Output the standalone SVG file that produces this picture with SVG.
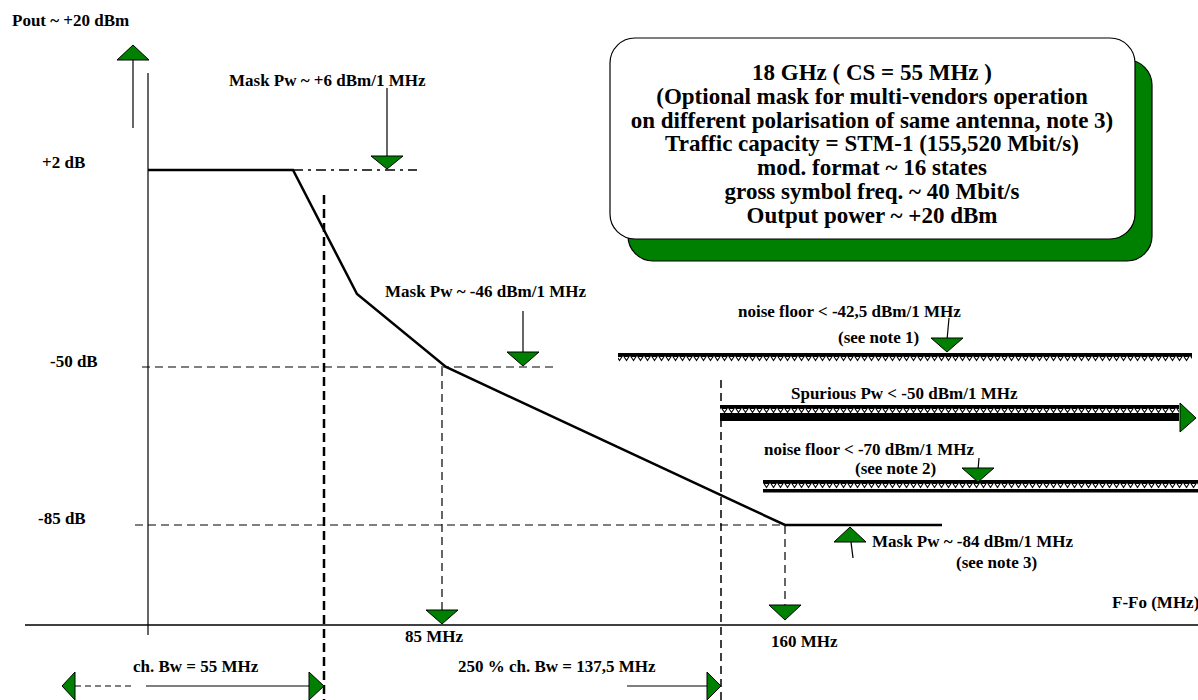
<svg xmlns="http://www.w3.org/2000/svg" width="1198" height="700" viewBox="0 0 1198 700">
<style>
text{font-family:'Liberation Serif','DejaVu Serif',serif;font-weight:bold;fill:#000}
.s{font-size:17px}
.b{font-size:23px;text-anchor:middle}
.tri{fill:#008000;stroke:#000;stroke-width:1}
.thin{stroke:#000;stroke-width:1.2;fill:none}
.dash{stroke:#000;stroke-width:1.2;stroke-dasharray:8,5;fill:none}
.bdash{stroke:#000;stroke-width:2.5;stroke-dasharray:9,5;fill:none}
</style>
<defs>
<pattern id="hatch" width="7" height="20" patternUnits="userSpaceOnUse">
<rect width="7" height="20" fill="#fff"/>
<rect width="7" height="3" fill="#000"/>
<polygon points="0,3 7,3 3.5,8.5" fill="#000"/>
<polygon points="1.8,3.9 5.2,3.9 3.5,6.6" fill="#fff"/>
</pattern>
<pattern id="h1" href="#hatch" x="0" y="353"/>
<pattern id="h2" href="#hatch" x="0" y="405"/>
<pattern id="h3" href="#hatch" x="0" y="480"/>
</defs>
<rect width="1198" height="700" fill="#fff"/>

<g id="axes">
<line x1="148" y1="73" x2="148" y2="635" stroke="#333" stroke-width="1.5"/>
<line x1="25" y1="625" x2="1198" y2="625" stroke="#000" stroke-width="1.5"/>
<text x="12" y="26" class="s">Pout ~ +20 dBm</text>
<line x1="133" y1="60" x2="133" y2="128" class="thin"/>
<polygon class="tri" points="117,60 149,60 133,45"/>
<text x="42" y="168" class="s">+2 dB</text>
<text x="50" y="367" class="s">-50 dB</text>
<text x="38" y="524" class="s">-85 dB</text>
<text x="1112" y="608" class="s">F-Fo (MHz)</text>
</g>

<g id="mask-curve">
<polyline points="148,170 293,170 357,294 446,367 785,525 942,525" fill="none" stroke="#000" stroke-width="2.5"/>
<line x1="293" y1="170" x2="417" y2="170" stroke="#000" stroke-width="1.5" stroke-dasharray="10,5,3,5"/>
</g>

<g id="connectors">
<line x1="142" y1="367" x2="553" y2="367" class="dash"/>
<line x1="135" y1="525" x2="785" y2="525" class="dash"/>
<line x1="324" y1="195" x2="324" y2="700" class="bdash"/>
<line x1="721" y1="380" x2="721" y2="700" stroke="#000" stroke-width="1.5" stroke-dasharray="8,5"/>
<line x1="442" y1="368" x2="442" y2="610" class="dash" stroke-width="1.5"/>
<line x1="785" y1="526" x2="785" y2="605" class="dash" stroke-width="1.5"/>
</g>

<g id="mask-plus6">
<text x="229" y="86" class="s">Mask Pw ~ +6 dBm/1  MHz</text>
<line x1="387" y1="88" x2="387" y2="156" class="thin"/>
<polygon class="tri" points="371,156 403,156 387,169"/>
</g>

<g id="mask-minus46">
<text x="385" y="297" class="s">Mask Pw ~ -46 dBm/1  MHz</text>
<line x1="523" y1="311" x2="523" y2="352" class="thin"/>
<polygon class="tri" points="507,352 539,352 523,366"/>
</g>

<g id="f85">
<polygon class="tri" points="426,610 458,610 442,624"/>
<text x="405" y="642" class="s">85 MHz</text>
</g>

<g id="f160">
<polygon class="tri" points="769,605 801,605 785,620"/>
<text x="771" y="647" class="s">160 MHz</text>
</g>

<g id="mask-minus84">
<polygon class="tri" points="834,542 866,542 850,527"/>
<line x1="851" y1="542" x2="853" y2="558" class="thin"/>
<text x="872" y="547" class="s">Mask Pw ~ -84 dBm/1  MHz</text>
<text x="956" y="568" class="s">(see note 3)</text>
</g>

<g id="noise1">
<text x="738" y="317" class="s">noise floor &lt; -42,5 dBm/1  MHz</text>
<text x="838" y="343" class="s">(see note 1)</text>
<line x1="949" y1="318" x2="947" y2="340" class="thin"/>
<rect x="618" y="353" width="574" height="10" fill="url(#h1)"/>
<polygon class="tri" points="931,338 963,338 947,352"/>
</g>

<g id="spurious">
<text x="791" y="399" class="s">Spurious Pw &lt; -50 dBm/1  MHz</text>
<rect x="720" y="405" width="459" height="8" fill="url(#h2)"/>
<rect x="720" y="413" width="459" height="8" fill="#000"/>
<polygon class="tri" points="1180,403 1180,432 1196,418"/>
</g>

<g id="noise2">
<text x="764" y="455" class="s">noise floor &lt; -70 dBm/1  MHz</text>
<text x="855" y="474" class="s">(see note 2)</text>
<line x1="979" y1="458" x2="978" y2="470" class="thin"/>
<rect x="763" y="480" width="435" height="9" fill="url(#h3)"/>
<rect x="763" y="489" width="435" height="3.5" fill="#000"/>
<polygon class="tri" points="962,468 994,468 978,482"/>
</g>

<g id="info-box">
<rect x="628" y="60" width="524" height="201" rx="25" fill="#008000" stroke="#000" stroke-width="1.2"/>
<rect x="610" y="38" width="525" height="201" rx="25" fill="#fff" stroke="#000" stroke-width="1.2"/>
<text x="872" y="80" class="b">18 GHz ( CS = 55 MHz )</text>
<text x="872" y="104" class="b">(Optional mask for multi-vendors operation</text>
<text x="872" y="128" class="b">on different polarisation of same antenna, note 3)</text>
<text x="872" y="151" class="b">Traffic capacity = STM-1 (155,520 Mbit/s)</text>
<text x="872" y="175" class="b">mod. format ~ 16 states</text>
<text x="872" y="199" class="b">gross symbol freq. ~ 40 Mbit/s</text>
<text x="872" y="223" class="b">Output power ~ +20 dBm</text>
</g>

<g id="bw-55">
<text x="133" y="672" class="s">ch. Bw = 55 MHz</text>
<polygon class="tri" points="75,672 75,700 62,686"/>
<line x1="75" y1="686" x2="131" y2="686" class="thin" stroke-dasharray="6,4"/>
<line x1="146" y1="686" x2="309" y2="686" class="thin"/>
<polygon class="tri" points="309,672 309,700 324,686"/>
</g>

<g id="bw-137">
<text x="458" y="672" class="s">250 % ch. Bw = 137,5 MHz</text>
<line x1="627" y1="686" x2="707" y2="686" class="thin"/>
<polygon class="tri" points="707,672 707,700 721,686"/>
</g>
</svg>
